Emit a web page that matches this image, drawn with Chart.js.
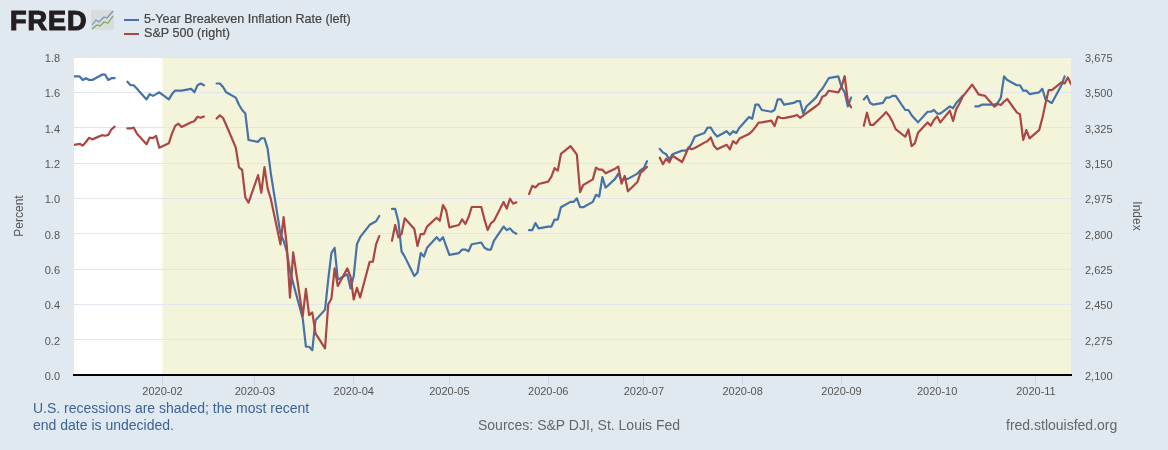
<!DOCTYPE html>
<html>
<head>
<meta charset="utf-8">
<title>5-Year Breakeven Inflation Rate and S&amp;P 500</title>
<script src="https://cdn.jsdelivr.net/npm/chart.js@4"></script>
<style>
    html, body { margin: 0; padding: 0; background: #e1e9f0; }
    #wrap { position: relative; width: 1168px; height: 450px; overflow: hidden; font-family: "Liberation Sans", Arial, sans-serif; }
    #grafico { position: absolute; left: 0; top: 0; }
    #logo { position: absolute; left: 10px; top: 5px; font-size: 27px; line-height: 33px; font-weight: bold; color: #231f20; letter-spacing: 1px; -webkit-text-stroke: 1.2px #231f20; }
    #logoIcon { position: absolute; left: 91px; top: 10px; }
    #legend { position: absolute; left: 124px; top: 12px; font-size: 12.6px; color: #444; }
    .item { position: relative; height: 14px; line-height: 14px; padding-left: 20px; white-space: nowrap; -webkit-text-stroke: 0.2px #444; }
    .item i { position: absolute; left: 0; top: 7px; width: 15px; height: 2px; }
    .note { position: absolute; font-size: 14px; line-height: 17px; white-space: nowrap; }
    #recessionNote { left: 33px; top: 400px; color: #3a6496; }
    #sources { left: 478px; top: 417px; color: #666; }
    #site { left: 1006px; top: 417px; color: #666; }
</style>
</head>
<body>
<div id="wrap">
    <canvas id="grafico" width="1168" height="450"></canvas>
    <div id="logo">FRED</div>
    <svg id="logoIcon" width="24" height="22" viewBox="0 0 24 22">
        <rect x="0" y="0" width="23" height="20" rx="2" fill="#d9dcdc"/>
        <polyline points="1,15 5,10 8,12 13,7 16,8 22,1" fill="none" stroke="#6f96ba" stroke-width="1.2"/>
        <polyline points="1,19 6,15 9,16 13,12 17,13 22,6" fill="none" stroke="#7fa650" stroke-width="1.2"/>
    </svg>
    <div id="legend"></div>
    <div class="note" id="recessionNote">U.S. recessions are shaded; the most recent<br>end date is undecided.</div>
    <div class="note" id="sources">Sources: S&amp;P DJI, St. Louis Fed</div>
    <div class="note" id="site">fred.stlouisfed.org</div>
</div>
<script>
const tickDates = ['2020-02-01', '2020-03-01', '2020-04-01', '2020-05-01', '2020-06-01', '2020-07-01', '2020-08-01', '2020-09-01', '2020-10-01', '2020-11-01'];
const tickLabels = ['2020-02', '2020-03', '2020-04', '2020-05', '2020-06', '2020-07', '2020-08', '2020-09', '2020-10', '2020-11'];
const leftTicks = [0, 0.2, 0.4, 0.6, 0.8, 1.0, 1.2, 1.4, 1.6, 1.8];
const rightTicks = [2100, 2275, 2450, 2625, 2800, 2975, 3150, 3325, 3500, 3675];
const recessionStart = '2020-02-01';
const seriesNames = ['5-Year Breakeven Inflation Rate (left)', 'S&P 500 (right)'];

// one row per trading week, null where the market was closed
const dates = [
    '2020-01-03',
    '2020-01-06', '2020-01-07', '2020-01-08', '2020-01-09', '2020-01-10',
    '2020-01-13', '2020-01-14', '2020-01-15', '2020-01-16', '2020-01-17',
    '2020-01-20', '2020-01-21', '2020-01-22', '2020-01-23', '2020-01-24',
    '2020-01-27', '2020-01-28', '2020-01-29', '2020-01-30', '2020-01-31',
    '2020-02-03', '2020-02-04', '2020-02-05', '2020-02-06', '2020-02-07',
    '2020-02-10', '2020-02-11', '2020-02-12', '2020-02-13', '2020-02-14',
    '2020-02-17', '2020-02-18', '2020-02-19', '2020-02-20', '2020-02-21',
    '2020-02-24', '2020-02-25', '2020-02-26', '2020-02-27', '2020-02-28',
    '2020-03-02', '2020-03-03', '2020-03-04', '2020-03-05', '2020-03-06',
    '2020-03-09', '2020-03-10', '2020-03-11', '2020-03-12', '2020-03-13',
    '2020-03-16', '2020-03-17', '2020-03-18', '2020-03-19', '2020-03-20',
    '2020-03-23', '2020-03-24', '2020-03-25', '2020-03-26', '2020-03-27',
    '2020-03-30', '2020-03-31', '2020-04-01', '2020-04-02', '2020-04-03',
    '2020-04-06', '2020-04-07', '2020-04-08', '2020-04-09', '2020-04-10',
    '2020-04-13', '2020-04-14', '2020-04-15', '2020-04-16', '2020-04-17',
    '2020-04-20', '2020-04-21', '2020-04-22', '2020-04-23', '2020-04-24',
    '2020-04-27', '2020-04-28', '2020-04-29', '2020-04-30', '2020-05-01',
    '2020-05-04', '2020-05-05', '2020-05-06', '2020-05-07', '2020-05-08',
    '2020-05-11', '2020-05-12', '2020-05-13', '2020-05-14', '2020-05-15',
    '2020-05-18', '2020-05-19', '2020-05-20', '2020-05-21', '2020-05-22',
    '2020-05-25', '2020-05-26', '2020-05-27', '2020-05-28', '2020-05-29',
    '2020-06-01', '2020-06-02', '2020-06-03', '2020-06-04', '2020-06-05',
    '2020-06-08', '2020-06-09', '2020-06-10', '2020-06-11', '2020-06-12',
    '2020-06-15', '2020-06-16', '2020-06-17', '2020-06-18', '2020-06-19',
    '2020-06-22', '2020-06-23', '2020-06-24', '2020-06-25', '2020-06-26',
    '2020-06-29', '2020-06-30', '2020-07-01', '2020-07-02', '2020-07-03',
    '2020-07-06', '2020-07-07', '2020-07-08', '2020-07-09', '2020-07-10',
    '2020-07-13', '2020-07-14', '2020-07-15', '2020-07-16', '2020-07-17',
    '2020-07-20', '2020-07-21', '2020-07-22', '2020-07-23', '2020-07-24',
    '2020-07-27', '2020-07-28', '2020-07-29', '2020-07-30', '2020-07-31',
    '2020-08-03', '2020-08-04', '2020-08-05', '2020-08-06', '2020-08-07',
    '2020-08-10', '2020-08-11', '2020-08-12', '2020-08-13', '2020-08-14',
    '2020-08-17', '2020-08-18', '2020-08-19', '2020-08-20', '2020-08-21',
    '2020-08-24', '2020-08-25', '2020-08-26', '2020-08-27', '2020-08-28',
    '2020-08-31', '2020-09-01', '2020-09-02', '2020-09-03', '2020-09-04',
    '2020-09-07', '2020-09-08', '2020-09-09', '2020-09-10', '2020-09-11',
    '2020-09-14', '2020-09-15', '2020-09-16', '2020-09-17', '2020-09-18',
    '2020-09-21', '2020-09-22', '2020-09-23', '2020-09-24', '2020-09-25',
    '2020-09-28', '2020-09-29', '2020-09-30', '2020-10-01', '2020-10-02',
    '2020-10-05', '2020-10-06', '2020-10-07', '2020-10-08', '2020-10-09',
    '2020-10-12', '2020-10-13', '2020-10-14', '2020-10-15', '2020-10-16',
    '2020-10-19', '2020-10-20', '2020-10-21', '2020-10-22', '2020-10-23',
    '2020-10-26', '2020-10-27', '2020-10-28', '2020-10-29', '2020-10-30',
    '2020-11-02', '2020-11-03', '2020-11-04', '2020-11-05', '2020-11-06',
    '2020-11-09', '2020-11-10', '2020-11-11', '2020-11-12'
];

const breakeven = [
    1.69,
    1.69, 1.67, 1.68, 1.67, 1.67,
    1.70, 1.70, 1.67, 1.68, 1.68,
    null, 1.66, 1.64, 1.64, 1.62,
    1.56, 1.59, 1.58, 1.59, 1.60,
    1.56, 1.59, 1.61, 1.61, 1.61,
    1.62, 1.60, 1.64, 1.65, 1.64,
    null, 1.65, 1.65, 1.63, 1.60,
    1.57, 1.53, 1.50, 1.48, 1.33,
    1.32, 1.34, 1.34, 1.28, 1.14,
    0.80, 0.76, 0.70, 0.59, 0.52,
    0.32, 0.16, 0.16, 0.14, 0.31,
    0.37, 0.54, 0.69, 0.72, 0.54,
    0.57, 0.49, 0.56, 0.74, 0.78,
    0.85, 0.86, 0.87, 0.90, null,
    0.94, 0.94, 0.87, 0.70, 0.67,
    0.56, 0.58, 0.69, 0.67, 0.72,
    0.78, 0.76, 0.78, 0.73, 0.68,
    0.69, 0.71, 0.71, 0.70, 0.74,
    0.75, 0.72, 0.71, 0.71, 0.76,
    0.84, 0.82, 0.83, 0.81, 0.80,
    null, 0.82, 0.82, 0.86, 0.83,
    0.84, 0.84, 0.88, 0.88, 0.95,
    0.98, 0.98, 1.00, 0.95, 0.95,
    0.98, 1.02, 1.01, 1.12, 1.06,
    1.11, 1.14, 1.10, 1.11, 1.11,
    1.14, 1.16, 1.17, 1.21, null,
    1.28, 1.26, 1.25, 1.22, 1.25,
    1.27, 1.27, 1.28, 1.31, 1.35,
    1.37, 1.40, 1.40, 1.37, 1.35,
    1.38, 1.36, 1.38, 1.37, 1.40,
    1.46, 1.45, 1.53, 1.53, 1.50,
    1.49, 1.50, 1.56, 1.56, 1.53,
    1.54, 1.55, 1.55, 1.48, 1.52,
    1.57, 1.60, 1.62, 1.65, 1.68,
    1.69, 1.63, 1.60, 1.52, 1.57,
    null, 1.56, 1.58, 1.54, 1.53,
    1.54, 1.57, 1.57, 1.58, 1.58,
    1.50, 1.50, 1.47, 1.45, 1.43,
    1.49, 1.49, 1.50, 1.48, 1.48,
    1.52, 1.51, 1.54, 1.56, 1.58,
    null, 1.52, 1.52, 1.53, 1.53,
    1.53, 1.54, 1.57, 1.69, 1.67,
    1.64, 1.64, 1.61, 1.61, 1.59,
    1.60, 1.62, 1.56, 1.55, 1.54,
    1.64, 1.69, null, null
];

const sp500 = [
    3236,
    3245, 3236, 3254, 3275, 3267,
    3288, 3285, 3289, 3317, 3330,
    null, 3321, 3321, 3325, 3295,
    3243, 3276, 3273, 3284, 3226,
    3248, 3297, 3334, 3345, 3328,
    3352, 3357, 3379, 3374, 3380,
    null, 3370, 3386, 3373, 3338,
    3226, 3128, 3116, 2979, 2954,
    3090, 3003, 3130, 3023, 2972,
    2747, 2882, 2741, 2483, 2707,
    2392, 2527, 2397, 2410, 2306,
    2232, 2450, 2478, 2628, 2541,
    2628, 2587, 2474, 2532, 2484,
    2661, 2661, 2747, 2788, null,
    2765, 2843, 2782, 2798, 2876,
    2823, 2739, 2798, 2798, 2835,
    2879, 2864, 2942, 2914, 2831,
    2843, 2871, 2848, 2881, 2932,
    2932, 2871, 2818, 2851, 2864,
    2957, 2924, 2973, 2949, 2955,
    null, 2996, 3037, 3029, 3046,
    3058, 3082, 3125, 3112, 3195,
    3234, 3213, 3191, 3006, 3041,
    3069, 3127, 3117, 3117, 3099,
    3122, 3132, 3048, 3086, 3010,
    3056, 3102, 3115, 3130, null,
    3176, 3144, 3171, 3153, 3186,
    3155, 3190, 3227, 3218, 3224,
    3251, 3259, 3277, 3235, 3218,
    3240, 3218, 3258, 3246, 3271,
    3294, 3308, 3328, 3350, 3351,
    3360, 3333, 3380, 3373, 3372,
    3382, 3388, 3374, 3385, 3397,
    3431, 3444, 3478, 3485, 3508,
    3500, 3527, 3580, 3455, 3426,
    null, 3335, 3399, 3339, 3339,
    3385, 3402, 3383, 3355, 3318,
    3280, 3316, 3234, 3247, 3300,
    3351, 3335, 3363, 3381, 3351,
    3409, 3358, 3417, 3445, 3478,
    3538, 3515, 3490, 3486, 3483,
    3429, 3442, 3437, 3454, 3467,
    3401, 3391, 3264, 3313, 3272,
    3313, 3371, 3445, 3511, 3511,
    3549, 3544, 3574, 3541
];

const BLUE = '#4572a7';
const RED = '#aa4643';

function toTime(dateStr) {
    return Date.parse(dateStr + 'T00:00:00Z');
}

function toPoints(values) {
    return dates.map((d, i) => ({ x: toTime(d), y: values[i] }));
}

// white plot area, then the recession band from its start to the right edge
const plotBackground = {
    id: 'plotBackground',
    beforeDraw(chart) {
        const { ctx, chartArea: a, scales } = chart;
        const start = scales.x.getPixelForValue(toTime(recessionStart));
        ctx.save();
        ctx.fillStyle = '#ffffff';
        ctx.fillRect(a.left, a.top, a.width, a.height);
        ctx.fillStyle = '#f4f4da';
        ctx.fillRect(start, a.top, a.right - start, a.height);
        ctx.restore();
    }
};

const legend = document.getElementById('legend');
[BLUE, RED].forEach((color, i) => {
    const row = document.createElement('div');
    row.className = 'item';
    row.innerHTML = '<i style="background:' + color + '"></i>';
    row.appendChild(document.createTextNode(seriesNames[i]));
    legend.appendChild(row);
});

const tickFont = { family: '"Liberation Sans", Arial, sans-serif', size: 11 };
const titleFont = { family: '"Liberation Sans", Arial, sans-serif', size: 12 };

new Chart(document.getElementById('grafico'), {
    type: 'line',
    data: {
        datasets: [
            { label: seriesNames[0], data: toPoints(breakeven), yAxisID: 'yLeft', borderColor: BLUE, order: 2 },
            { label: seriesNames[1], data: toPoints(sp500), yAxisID: 'yRight', borderColor: RED, order: 1 }
        ]
    },
    options: {
        responsive: false,
        animation: false,
        devicePixelRatio: 1,
        layout: { padding: { top: 57, right: 0, bottom: 0, left: 0 } },
        elements: {
            point: { radius: 0 },
            line: { borderWidth: 2.2, tension: 0, borderJoinStyle: 'round', borderCapStyle: 'round' }
        },
        spanGaps: false,
        plugins: {
            legend: { display: false },
            tooltip: { enabled: false }
        },
        scales: {
            x: {
                type: 'linear',
                min: Date.UTC(2020, 0, 4, 6),
                max: toTime('2020-11-12'),
                afterBuildTicks: scale => {
                    scale.ticks = tickDates.map(d => ({ value: toTime(d) }));
                },
                afterFit: scale => { scale.height = 75; },
                grid: { drawOnChartArea: false, drawTicks: true, tickLength: 10, tickColor: '#ccd6eb', tickWidth: 1 },
                border: { color: '#000000', width: 2 },
                ticks: {
                    autoSkip: false,
                    maxRotation: 0,
                    padding: 0,
                    color: '#555555',
                    font: tickFont,
                    callback: value => tickLabels[tickDates.findIndex(d => toTime(d) === value)]
                }
            },
            yLeft: {
                position: 'left',
                min: leftTicks[0],
                max: leftTicks[leftTicks.length - 1],
                afterBuildTicks: scale => {
                    scale.ticks = leftTicks.map(v => ({ value: v }));
                },
                afterFit: scale => { scale.width = 74; },
                grid: { color: '#e2e4ee', lineWidth: 1, drawTicks: false },
                border: { display: false },
                ticks: {
                    padding: 14,
                    labelOffset: 2,
                    color: '#555555',
                    font: tickFont,
                    callback: value => value.toFixed(1)
                },
                title: { display: true, text: 'Percent', color: '#555555', font: titleFont, padding: { top: 12, bottom: 0 } }
            },
            yRight: {
                position: 'right',
                min: rightTicks[0],
                max: rightTicks[rightTicks.length - 1],
                afterBuildTicks: scale => {
                    scale.ticks = rightTicks.map(v => ({ value: v }));
                },
                afterFit: scale => { scale.width = 97; },
                grid: { drawOnChartArea: false, drawTicks: false },
                border: { display: false },
                ticks: {
                    padding: 14,
                    labelOffset: 2,
                    color: '#555555',
                    font: tickFont,
                    callback: value => value.toLocaleString('en-US')
                },
                title: { display: true, text: 'Index', color: '#555555', font: titleFont, padding: { top: 24, bottom: 0 } }
            }
        }
    },
    plugins: [plotBackground]
});
</script>
</body>
</html>
